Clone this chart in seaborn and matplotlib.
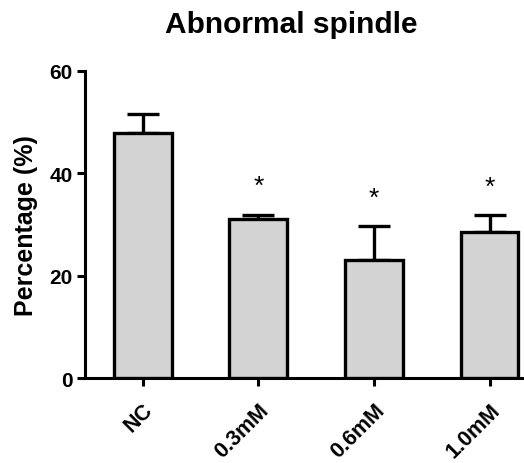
import matplotlib
matplotlib.use("Agg")
import matplotlib.pyplot as plt
import seaborn as sns
import pandas as pd

categories = ["NC", "0.3mM", "0.6mM", "1.0mM"]
means = [47.8, 31.1, 23.0, 28.6]
sems = [3.8, 0.8, 6.7, 3.2]
stars = ["", "*", "*", "*"]

sns.set_style("ticks")
plt.rcParams["font.family"] = ["Liberation Sans", "DejaVu Sans"]
plt.rcParams["font.weight"] = "bold"
plt.rcParams["text.color"] = "black"
plt.rcParams["axes.labelcolor"] = "black"
plt.rcParams["xtick.color"] = "black"
plt.rcParams["ytick.color"] = "black"
plt.rcParams["axes.edgecolor"] = "black"

df = pd.DataFrame({"group": categories, "value": means})

fig = plt.figure(figsize=(5.24, 4.64), dpi=100)
ax = fig.add_axes([0.162, 0.1825, 0.834, 0.663])

sns.barplot(data=df, x="group", y="value", ax=ax, color="#d3d3d3",
            edgecolor="black", linewidth=2.4, width=0.5, errorbar=None,
            saturation=1, zorder=3)
xs = list(range(len(categories)))
ax.errorbar(xs, means, yerr=[[0] * len(sems), sems], fmt="none", ecolor="black",
            elinewidth=2.4, capsize=11.5, capthick=2.4, zorder=2)

for x, m, s, st in zip(xs, means, sems, stars):
    if st:
        ax.text(x, m + s + 3.2, st, ha="center", va="bottom", fontsize=19,
                fontweight="normal", color="black")

ax.set_xlim(-0.5, 3.28)
ax.set_ylim(0, 60)
ax.set_yticks([0, 20, 40, 60])
ax.set_xlabel("")
ax.set_ylabel("Percentage (%)", fontsize=18, fontweight="bold", labelpad=8)
ax.tick_params(axis="both", width=2.2, length=6, labelsize=15, direction="out",
               colors="black")
ax.tick_params(axis="y", pad=3)
ax.tick_params(axis="x", pad=9, labelsize=15.5)
plt.setp(ax.get_xticklabels(), rotation=45, ha="right", rotation_mode="anchor",
         fontweight="bold")
plt.setp(ax.get_yticklabels(), fontweight="bold")
for sp in ["top", "right"]:
    ax.spines[sp].set_visible(False)
for sp in ["left", "bottom"]:
    ax.spines[sp].set_linewidth(2.2)
    ax.spines[sp].set_color("black")

fig.text(0.555, 0.929, "Abnormal spindle", ha="center", va="baseline",
         fontsize=21.5, fontweight="bold", color="black")

fig.savefig("out.png", dpi=100)
